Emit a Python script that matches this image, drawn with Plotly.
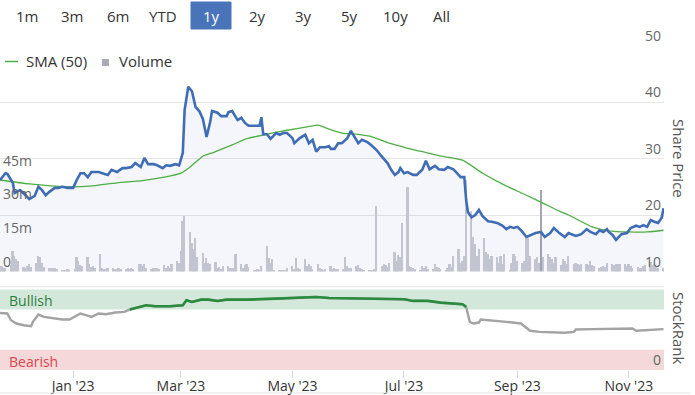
import pandas as pd
import plotly.graph_objects as go

# ---------------- data ----------------
DAY0 = "2022-11-22"
X_END = "2023-11-20 06:00"

price_day = [
    0, 3, 4, 7, 8, 11, 14, 16, 19, 21,
    23, 25, 27, 30, 32, 34, 37, 40, 42, 44,
    46, 48, 50, 54, 56, 59, 61, 64, 67, 69,
    72, 74, 77, 79, 81, 84, 86, 89, 91, 93,
    96, 98, 100, 101, 103, 105, 107, 109, 111, 113,
    115, 116, 119, 121, 124, 125, 127, 130, 132, 134,
    136, 139, 142, 143, 144, 146, 148, 149, 151, 153,
    155, 157, 160, 161, 164, 167, 169, 171, 173, 175,
    178, 180, 181, 183, 185, 187, 190, 192, 194, 196,
    198, 201, 203, 206, 209, 212, 214, 216, 218, 219,
    221, 223, 226, 228, 231, 233, 235, 238, 240, 243,
    245, 248, 250, 252, 254, 255, 256, 258, 260, 262,
    264, 267, 269, 272, 275, 277, 279, 281, 283, 285,
    288, 291, 293, 296, 298, 301, 303, 306, 309, 311,
    315, 318, 321, 323, 326, 328, 330, 332, 333, 335,
    337, 340, 343, 345, 348, 350, 352, 354, 356, 358,
    360, 362, 363]
price = [
    26.2, 27.4, 27.3, 25.7, 23.9, 24.4, 23.5, 22.8, 23.4, 25.0,
    24.4, 23.5, 24.1, 24.8, 24.8, 25.0, 24.8, 24.8, 26.2, 27.4,
    27.4, 26.7, 27.6, 27.6, 27.4, 27.1, 28.0, 27.6, 28.3, 28.3,
    28.5, 29.2, 28.5, 30.1, 29.0, 29.0, 28.8, 28.3, 28.8, 28.7,
    29.0, 28.8, 31.0, 38.6, 42.7, 41.9, 39.1, 38.4, 37.0, 33.8,
    36.5, 38.4, 38.1, 37.5, 37.5, 38.2, 38.4, 36.8, 37.2, 36.3,
    35.8, 35.8, 35.8, 37.3, 34.3, 34.3, 33.5, 33.8, 34.5, 34.2,
    34.5, 34.5, 33.6, 32.7, 33.6, 34.2, 32.7, 33.3, 31.2, 32.0,
    32.0, 32.2, 31.7, 31.7, 32.7, 32.7, 33.6, 34.9, 33.8, 32.7,
    33.3, 32.9, 32.4, 31.5, 30.3, 29.2, 28.0, 27.1, 27.6, 28.3,
    27.4, 27.6, 27.1, 27.1, 28.0, 29.6, 28.1, 28.7, 28.1, 28.0,
    28.5, 28.1, 27.4, 26.7, 26.7, 22.7, 20.5, 19.6, 20.0, 20.9,
    19.8, 18.9, 18.8, 18.6, 18.1, 17.5, 17.9, 17.7, 17.9, 17.3,
    16.1, 16.5, 16.8, 17.0, 16.1, 16.8, 17.7, 16.8, 16.1, 16.8,
    16.3, 16.6, 17.5, 17.0, 16.6, 17.3, 17.0, 17.5, 17.0, 16.5,
    15.6, 16.6, 16.8, 17.7, 18.1, 17.9, 18.2, 17.9, 19.1, 18.8,
    18.6, 19.5, 21.2]

sma_day = [0, 16, 37, 49, 64, 78, 90, 99, 104, 111,
           117, 127, 135, 146, 157, 168, 174, 180, 187, 195,
           204, 213, 222, 231, 240, 253, 264, 276, 288, 297,
           306, 311, 324, 333, 344, 354, 363]
sma = [26.2, 25.5, 25.0, 25.1, 25.7, 26.1, 26.7, 27.4, 28.5, 30.4,
       31.1, 32.4, 33.5, 34.3, 35.0, 35.6, 35.9, 35.2, 34.5, 34.3,
       33.8, 32.7, 31.9, 31.2, 30.5, 29.7, 27.4, 25.3, 23.5, 22.1,
       20.7, 20.0, 17.9, 17.2, 17.0, 17.0, 17.3]

rank_day = [0, 4, 6, 9, 13, 17, 18, 21, 24, 29,
            34, 38, 40, 44, 47, 50, 54, 58, 63, 68,
            71, 75, 80, 85, 93, 100, 102, 105, 110, 114,
            119, 124, 136, 151, 166, 173, 180, 195, 209, 221,
            226, 234, 241, 248, 253, 255, 257, 259, 262, 263,
            268, 277, 285, 287, 290, 295, 304, 309, 314, 315,
            324, 336, 346, 348, 355, 363]
rank = [70.7, 70, 61.7, 57.6, 55.5, 54.3, 59.7, 68.7, 65.8, 63.8,
        62.6, 62.6, 65, 70, 67.9, 65.8, 70, 69.1, 71.2, 72,
        75, 77.4, 80.3, 79, 79, 80.3, 86.4, 84.4, 87.2, 87.2,
        85.6, 87.2, 87.2, 88.5, 89.3, 90.5, 89.3, 88.5, 88.5, 87.7,
        85.6, 85.6, 83.5, 82.3, 81.5, 78.2, 59.7, 57.6, 58.8, 62.6,
        61.7, 59.7, 57.6, 53.5, 48.6, 47.3, 46.5, 46.1, 47.3, 50.2,
        50.6, 51.4, 51.4, 48.6, 49.4, 50.6]

# daily volume in millions, one row per trading week (Mon-Fri)
volume_weeks = [
    [2.0, 2.5, 1.8, 2.0],
    [3.0, 9.6, 7.3, 6.0, 5.0], [2.3, 2.0, 2.6, 3.4, 2.2], [4.2, 7.3, 6.5, 4.2, 2.3],
    [1.9, 1.9, 1.6, 1.9, 1.2], [0.5, 0.8, 0.6, 1.4, 0.9], [1.2, 6.5, 5.0, 3.0, 2.5],
    [6.5, 3.7, 2.2, 2.6, 2.0], [8.0, 1.9, 1.5, 1.4, 1.6], [1.9, 1.5, 1.2, 1.8, 1.4],
    [1.5, 1.9, 1.2, 1.6, 1.3], [3.5, 3.4, 2.6, 3.7, 1.8], [1.4, 1.9, 1.9, 1.7, 1.5],
    [3.0, 1.9, 2.6, 1.6, 3.4], [5.0, 4.0, 9.6, 22.7, 25.0], [18.0, 12.8, 10.4, 15.0, 6.5],
    [8.6, 4.2, 6.3, 4.2, 3.4], [4.5, 1.9, 2.2, 1.5, 2.6], [2.6, 1.9, 2.0, 1.8, 8.0],
    [3.4, 1.9, 3.0, 3.4, 2.2], [1.1, 1.1, 1.2, 1.1, 2.6], [11.4, 6.4, 4.2, 5.7, 1.1],
    [1.0, 0.9, 1.1, 1.0, 1.9], [2.6, 1.5, 6.4, 1.9, 1.2], [5.7, 2.6, 3.4, 2.6, 1.5],
    [3.4, 1.9, 1.2, 1.1, 1.4], [2.6, 1.5, 1.6, 1.2, 1.3], [1.2, 6.8, 2.6, 1.9, 1.9],
    [2.6, 3.0, 1.8, 1.2, 1.1], [1.1, 1.0, 1.1, 1.2, 29.3], [2.6, 3.4, 3.0, 2.2, 4.2],
    [8.8, 5.0, 7.7, 6.8, 22.0], [37.8, 2.6, 2.2, 1.9, 1.2], [1.1, 2.6, 1.9, 2.6, 1.5],
    [1.5, 3.4, 2.2, 1.9, 1.5], [1.1, 1.6, 3.4, 2.2, 7.3], [10.4, 4.2, 5.0, 7.3, 41.2],
    [27.3, 15.6, 12.7, 7.3, 10.4], [15.0, 8.8, 8.0, 5.7, 7.3], [6.5, 4.2, 7.3, 3.5, 8.0],
    [1.1, 4.2, 8.0, 7.3, 5.0], [4.2, 5.0, 15.2, 15.2, 7.3], [5.7, 6.5, 4.2, 36.6, 6.5],
    [8.0, 6.5, 5.7, 4.2, 6.5], [3.1, 5.7, 5.0, 3.5, 7.3], [3.4, 4.2, 3.7, 3.2, 3.7],
    [3.4, 3.0, 5.0, 3.2, 2.6], [1.9, 2.2, 2.6, 2.4, 4.2], [3.7, 3.1, 3.4, 3.7, 3.5],
    [3.7, 2.6, 3.4, 2.5, 1.9], [2.2, 1.6, 2.0, 2.6, 3.0], [4.6, 3.1, 3.4, 2.6, 2.0],
    [1.9],
]
HIGHLIGHT_DAY = "2023-09-14"

range_buttons = ["1m", "3m", "6m", "YTD", "1y", "2y", "3y", "5y", "10y", "All"]
ACTIVE_BUTTON = "1y"
vol_tickvals = [0, 15e6, 30e6, 45e6]
vol_ticktext = ["0", "15m", "30m", "45m"]
price_ticks = [10, 20, 30, 40, 50]

# ---------------- build ----------------
t0 = pd.Timestamp(DAY0)
price_dates = t0 + pd.to_timedelta(price_day, unit="D")
sma_dates = t0 + pd.to_timedelta(sma_day, unit="D")
rank_dates = t0 + pd.to_timedelta(rank_day, unit="D")
vol_dates = pd.bdate_range(DAY0, "2023-11-20")
vol_values = [v * 1e6 for wk in volume_weeks for v in wk]
vol_colors = ["#a4a6ad" if d == pd.Timestamp(HIGHLIGHT_DAY) else "#c9cbd2" for d in vol_dates]

W, H = 695, 395
PW = 664  # plot width in px (r margin 31)


def py(px):  # pixel y -> paper y
    return 1 - px / H


def pxx(px):  # pixel x -> paper x
    return px / PW


FONT = "Open Sans, Noto Sans, sans-serif"
fig = go.Figure()

fig.add_trace(go.Bar(x=vol_dates, y=vol_values, yaxis="y", marker=dict(color=vol_colors, line=dict(width=0)),
                     width=0.95 * 86400000, hoverinfo="skip", showlegend=False))
fig.add_trace(go.Scatter(x=price_dates, y=price, yaxis="y2", mode="lines", line=dict(width=0),
                         fill="tozeroy", fillcolor="rgba(80,110,190,0.06)", hoverinfo="skip", showlegend=False))
fig.add_trace(go.Scatter(x=sma_dates, y=sma, yaxis="y2", mode="lines", line=dict(color="#4caf42", width=1.3, shape="spline", smoothing=0.6),
                         showlegend=False))
fig.add_trace(go.Scatter(x=price_dates, y=price, yaxis="y2", mode="lines", line=dict(color="#3f6db5", width=2.6),
                         showlegend=False))

rank_green = [r if r >= 75 else None for r in rank]
fig.add_trace(go.Scatter(x=rank_dates, y=rank, yaxis="y3", mode="lines", line=dict(color="#a3a3a3", width=2.4),
                         showlegend=False))
fig.add_trace(go.Scatter(x=rank_dates, y=rank_green, yaxis="y3", mode="lines", line=dict(color="#2a8a3e", width=2.6),
                         connectgaps=False, showlegend=False))

main_dom = [py(271.5), py(45.5)]
rank_dom = [py(370), py(289.3)]

shapes = [
    dict(type="rect", xref="x domain", yref="y3", x0=0, x1=1, y0=75, y1=100, fillcolor="#d3e8da", line_width=0, layer="below"),
    dict(type="rect", xref="x domain", yref="y3", x0=0, x1=1, y0=0, y1=25, fillcolor="#f4d8da", line_width=0, layer="below"),
    dict(type="line", xref="paper", yref="paper", x0=0, x1=1, y0=py(286.7), y1=py(286.7), line=dict(color="#e6e6e6", width=1)),
    dict(type="line", xref="paper", yref="paper", x0=0, x1=1.04, y0=py(393), y1=py(393), line=dict(color="#e6e6e6", width=1)),
    # active range button
    dict(type="rect", xref="paper", yref="paper", x0=pxx(191), x1=pxx(231), y0=py(29), y1=py(2),
         fillcolor="#4a74b9", line=dict(color="#4a74b9", width=1)),
    # legend symbols
    dict(type="line", xref="paper", yref="paper", x0=pxx(5), x1=pxx(18), y0=py(61.5), y1=py(61.5), line=dict(color="#4caf42", width=1.5)),
    dict(type="rect", xref="paper", yref="paper", x0=pxx(102), x1=pxx(109), y0=py(66), y1=py(59), fillcolor="#a9abb2", line_width=0),
]

btn_x = [27, 72, 118, 163, 211, 257, 303, 349, 395, 442]
annotations = []
for lbl, bx in zip(range_buttons, btn_x):
    annotations.append(dict(text=lbl, xref="paper", yref="paper", x=pxx(bx), y=py(16), showarrow=False,
                            xanchor="center", yanchor="middle",
                            font=dict(family=FONT, size=15, color="#ffffff" if lbl == ACTIVE_BUTTON else "#333333")))
annotations += [
    dict(text="SMA (50)", xref="paper", yref="paper", x=pxx(24), y=py(61), xanchor="left", yanchor="middle",
         showarrow=False, font=dict(family=FONT, size=15, color="#333333")),
    dict(text="Volume", xref="paper", yref="paper", x=pxx(117), y=py(61), xanchor="left", yanchor="middle",
         showarrow=False, font=dict(family=FONT, size=15, color="#333333")),
    dict(text="Share Price", xref="paper", yref="paper", x=pxx(679), y=py(158), textangle=90, xanchor="center",
         yanchor="middle", showarrow=False, font=dict(family=FONT, size=15, color="#555555")),
    dict(text="StockRank", xref="paper", yref="paper", x=pxx(679), y=py(328), textangle=90, xanchor="center",
         yanchor="middle", showarrow=False, font=dict(family=FONT, size=15, color="#555555")),
    dict(text="Bullish", xref="paper", yref="paper", x=pxx(7), y=py(300), xanchor="left", yanchor="middle",
         showarrow=False, font=dict(family=FONT, size=14, color="#2e7d3a")),
    dict(text="Bearish", xref="paper", yref="paper", x=pxx(7), y=py(361), xanchor="left", yanchor="middle",
         showarrow=False, font=dict(family=FONT, size=14, color="#d9464e")),
]

fig.update_layout(
    width=W, height=H,
    margin=dict(l=0, r=31, t=0, b=0, autoexpand=False),
    paper_bgcolor="white", plot_bgcolor="white",
    font=dict(family=FONT),
    showlegend=False,
    bargap=0,
    xaxis=dict(domain=[0, 1], anchor="y3", type="date", range=[DAY0, X_END], automargin=False,
               tick0="2023-01-01", dtick="M2", tickformat="%b '%y",
               ticks="outside", ticklen=7, tickcolor="#ccd6eb", showgrid=False, showline=False, zeroline=False,
               ticklabelstandoff=-4,
               tickfont=dict(size=14, color="#333333")),
    yaxis=dict(domain=main_dom, anchor="x", side="left", range=[0, 101e6], automargin=False,
               tickvals=vol_tickvals, ticktext=vol_ticktext, ticklabelposition="inside top",
               ticklabeloverflow="allow",
               showgrid=False, zeroline=False, showline=False, ticks="",
               tickfont=dict(size=14, color="#666666")),
    yaxis2=dict(overlaying="y", anchor="x", side="right", range=[10, 50], automargin=False,
                tickvals=price_ticks, ticklabelposition="inside top", ticklabeloverflow="allow",
                showgrid=True, gridcolor="#e6e6e6", gridwidth=1, zeroline=False, showline=False, ticks="",
                tickfont=dict(size=14, color="#666666")),
    yaxis3=dict(domain=rank_dom, anchor="x", side="right", range=[0, 100], automargin=False,
                tickvals=[0], ticktext=["0"], ticklabelposition="inside top", ticklabeloverflow="allow",
                showgrid=False, zeroline=False, showline=False, ticks="",
                tickfont=dict(size=14, color="#666666")),
    shapes=shapes,
    annotations=annotations,
)

fig.write_html("out.html", config={"displayModeBar": False},
               post_script="document.body.style.margin='0';document.body.style.padding='0';")
